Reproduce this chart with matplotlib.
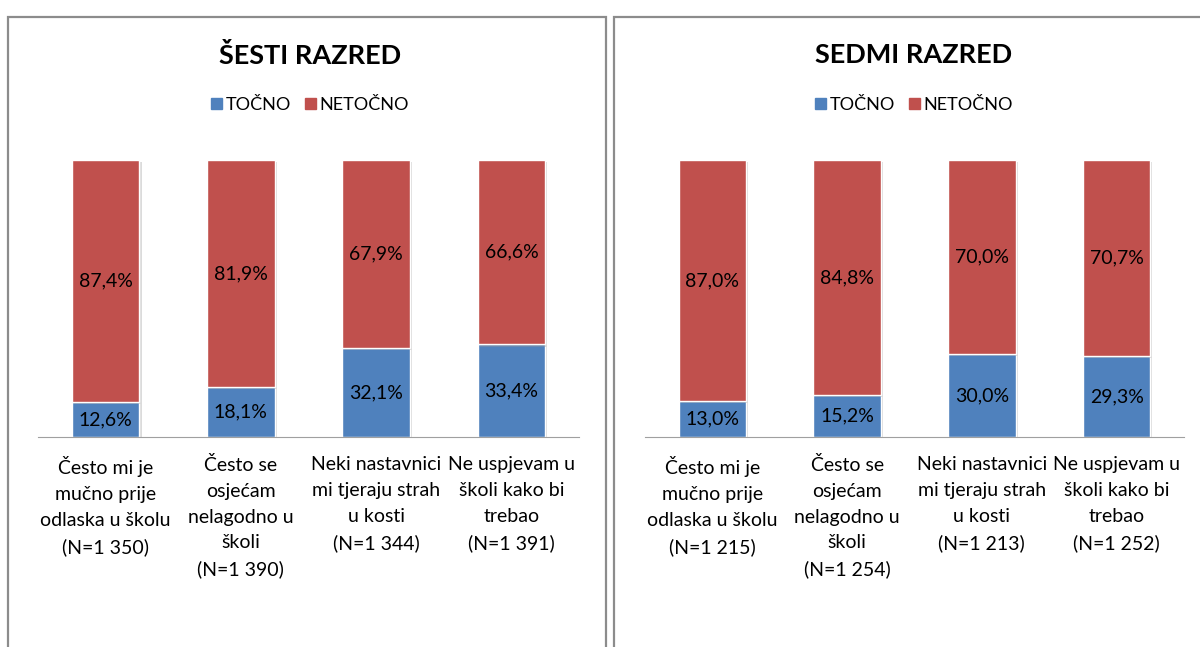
import matplotlib.pyplot as plt
import matplotlib.patheffects as pe
from matplotlib.patches import Rectangle, Patch

plt.rcParams['font.family'] = ['Lato', 'DejaVu Sans']

# podaci za oba razreda
pitanja = ["Često mi je\nmučno prije\nodlaska u školu",
           "Često se\nosjećam\nnelagodno u\nškoli",
           "Neki nastavnici\nmi tjeraju strah\nu kosti",
           "Ne uspjevam u\nškoli kako bi\ntrebao"]
n_sesti = ["1 350", "1 390", "1 344", "1 391"]
n_sedmi = ["1 215", "1 254", "1 213", "1 252"]
tocno_sesti = [12.6, 18.1, 32.1, 33.4]
netocno_sesti = [87.4, 81.9, 67.9, 66.6]
tocno_sedmi = [13.0, 15.2, 30.0, 29.3]
netocno_sedmi = [87.0, 84.8, 70.0, 70.7]

plava = "#4F81BD"
crvena = "#C0504D"

W, H = 1200, 647
fig = plt.figure(figsize=(W / 100, H / 100), dpi=100)


def px(x0, y0, w, h):
    # pikseli (od gornjeg lijevog kuta) -> koordinate figure
    return [x0 / W, 1 - (y0 + h) / H, w / W, h / H]


def graf(okvir, os, naslov, tocno, netocno, nn, cx):
    fig.patches.append(Rectangle((okvir[0] / W, -0.1), okvir[1] / W, (H - 17) / H + 0.1,
                                 transform=fig.transFigure, fill=False,
                                 edgecolor="#8c8c8c", linewidth=1.6))
    ax = fig.add_axes(px(*os))
    x = range(len(tocno))
    sjena = [pe.SimplePatchShadow(offset=(1.5, -1.5), shadow_rgbFace="#999999", alpha=0.35), pe.Normal()]
    b1 = ax.bar(x, tocno, 0.5, color=plava, edgecolor="white", linewidth=1)
    b2 = ax.bar(x, netocno, 0.5, bottom=tocno, color=crvena, edgecolor="white", linewidth=1)
    for b in list(b1) + list(b2):
        b.set_path_effects(sjena)
    for i in x:
        ax.text(i, tocno[i] / 2, f"{tocno[i]:.1f}%".replace(".", ","),
                ha="center", va="center", fontsize=14)
        ax.text(i, tocno[i] + netocno[i] / 2, f"{netocno[i]:.1f}%".replace(".", ","),
                ha="center", va="center", fontsize=14)
    ax.set_xlim(-0.5, 3.5)
    ax.set_ylim(0, 100)
    ax.set_yticks([])
    ax.set_xticks(list(x))
    ax.set_xticklabels([p + f"\n(N={n})" for p, n in zip(pitanja, nn)],
                       fontsize=14, linespacing=1.62, va="top")
    ax.tick_params(axis="x", length=0, pad=14)
    for s in ["top", "left", "right"]:
        ax.spines[s].set_visible(False)
    ax.spines["bottom"].set_color("#a0a0a0")
    ax.patch.set_alpha(0)
    fig.text(cx / W, 1 - 55 / H, naslov, ha="center", va="center",
             fontsize=19.5, fontweight="bold")
    fig.legend(handles=[Patch(color=plava, label="TOČNO"), Patch(color=crvena, label="NETOČNO")],
               loc="center", bbox_to_anchor=(cx / W, 1 - 105 / H), ncol=2, frameon=False,
               fontsize=13, handlelength=0.6, handleheight=0.6, handletextpad=0.2,
               columnspacing=0.8)


graf((8, 598), (38, 160, 541, 277), "ŠESTI RAZRED", tocno_sesti, netocno_sesti, n_sesti, 310)
graf((614, 600), (645, 160, 539, 277), "SEDMI RAZRED", tocno_sedmi, netocno_sedmi, n_sedmi, 914)

fig.savefig("out.png", dpi=100)
